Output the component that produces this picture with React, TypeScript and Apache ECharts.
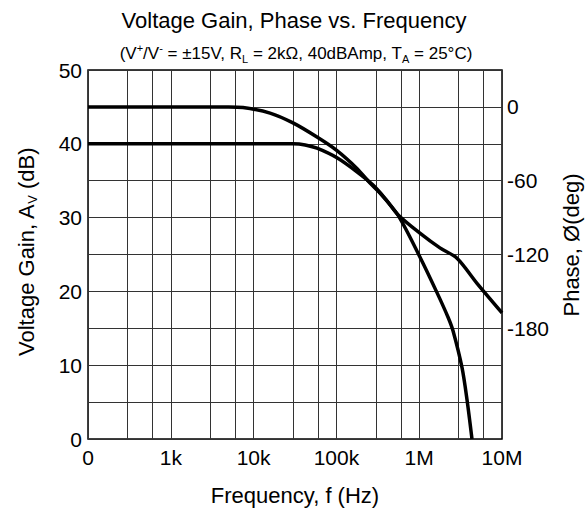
import React, { useEffect, useRef } from 'react';
import * as echarts from 'echarts';

// X axis (frequency, Hz) ticks and labels
const xTickValues = [100, 1000, 10000, 100000, 1000000, 10000000];
const xTickText = ['0', '1k', '10k', '100k', '1M', '10M'];
const minorGridFreqs = [300, 600, 3000, 6000, 30000, 60000, 300000, 600000, 3000000, 6000000];

// Right axis (phase) labels shown
const phaseTickText = [0, -60, -120, -180];

// Voltage gain curve (dB)
const gainFreq = [100, 20000, 29900, 42000, 58300, 101600, 177000, 277000, 400000, 554000, 1020000, 1780000, 2860000, 4990000, 10000000];
const gainDb = [40, 40, 40, 39.85, 39.4, 38.1, 36.2, 34.4, 32.4, 30.4, 27.9, 25.9, 24.5, 21.1, 17.1];

// Phase curve (degrees)
const phaseFreq = [100, 5000, 7450, 15800, 29900, 58300, 101600, 177000, 255000, 336000, 554000, 1020000, 1640000, 2230000, 2560000, 3290000, 3780000, 4340000];
const phaseDeg = [0, 0, -0.5, -5, -13, -24.5, -35.5, -50, -62, -70, -88, -122, -151, -171, -182, -212, -238, -270];

const FONT = '"Liberation Sans", Arial, Helvetica, sans-serif';

export default function App() {
  const ref = useRef<HTMLDivElement>(null);
  useEffect(() => {
    if (!ref.current) return;
    const chart = echarts.init(ref.current, undefined, { renderer: 'svg' });
    const gridColor = '#333';
    const option: any = {
      animation: false,
      backgroundColor: '#fff',
      textStyle: { fontFamily: FONT, color: '#000' },
      grid: { left: 88, right: 86, top: 70, bottom: 72, show: true, borderColor: '#000', borderWidth: 1.5, backgroundColor: 'transparent' },
      graphic: [
        { type: 'text', x: 294, y: 20, style: { text: 'Voltage Gain, Phase vs. Frequency', fontSize: 22, fontFamily: FONT, fill: '#000', textAlign: 'center', textVerticalAlign: 'middle' } },
        {
          type: 'text', x: 296, y: 53,
          style: {
            text: '(V{sup|+}/V{sup|-} = ±15V, R{sub|L} = 2kΩ, 40dBAmp, T{sub|A} = 25°C)',
            fontSize: 17, fontFamily: FONT, fill: '#000', textAlign: 'center', textVerticalAlign: 'middle', lineHeight: 22,
            rich: {
              sup: { fontSize: 11, fontFamily: FONT, fill: '#000', verticalAlign: 'top', lineHeight: 13 },
              sub: { fontSize: 11, fontFamily: FONT, fill: '#000', verticalAlign: 'bottom', lineHeight: 13 },
            },
          },
        },
        {
          type: 'text', x: 26, y: 252, rotation: Math.PI / 2,
          style: {
            text: 'Voltage Gain, A{sub|V} (dB)', fontSize: 22, fontFamily: FONT, fill: '#000', textAlign: 'center', textVerticalAlign: 'middle', lineHeight: 26,
            rich: { sub: { fontSize: 13, fontFamily: FONT, fill: '#000', verticalAlign: 'bottom', lineHeight: 16 } },
          },
        },
        { type: 'text', x: 571, y: 245, rotation: Math.PI / 2, style: { text: 'Phase, Ø(deg)', fontSize: 22, fontFamily: FONT, fill: '#000', textAlign: 'center', textVerticalAlign: 'middle' } },
        { type: 'text', x: 295, y: 495, style: { text: 'Frequency, f (Hz)', fontSize: 22, fontFamily: FONT, fill: '#000', textAlign: 'center', textVerticalAlign: 'middle' } },
      ],
      xAxis: {
        type: 'log', logBase: 10, min: xTickValues[0], max: xTickValues[xTickValues.length - 1],
        splitNumber: 5,
        axisLine: { show: false },
        axisTick: { show: false },
        axisLabel: {
          fontSize: 21, color: '#000', fontFamily: FONT, margin: 8,
          formatter: (v: number) => {
            const i = xTickValues.findIndex((t) => Math.abs(Math.log10(t) - Math.log10(v)) < 1e-6);
            return i >= 0 ? xTickText[i] : '';
          },
        },
        splitLine: { show: true, lineStyle: { color: gridColor, width: 1 } },
      },
      yAxis: [
        {
          type: 'value', min: 0, max: 50, interval: 10,
          axisLine: { show: false }, axisTick: { show: false },
          axisLabel: { fontSize: 21, color: '#000', fontFamily: FONT, margin: 6 },
          splitLine: { show: true, lineStyle: { color: gridColor, width: 1 } },
          minorTick: { show: false, splitNumber: 2 },
          minorSplitLine: { show: true, lineStyle: { color: gridColor, width: 1 } },
        },
        {
          type: 'value', min: -270, max: 30, interval: 30, position: 'right',
          axisLine: { show: false }, axisTick: { show: false }, splitLine: { show: false },
          axisLabel: {
            fontSize: 21, color: '#000', fontFamily: FONT, margin: 5,
            formatter: (v: number) => (phaseTickText.includes(Math.round(v)) ? String(Math.round(v)) : ''),
          },
        },
      ],
      series: [
        {
          type: 'line', name: 'gain', yAxisIndex: 0, showSymbol: false, smooth: 0.3,
          data: gainFreq.map((f, i) => [f, gainDb[i]]),
          lineStyle: { color: '#000', width: 3.5 },
          markLine: {
            silent: true, symbol: 'none', label: { show: false },
            lineStyle: { color: gridColor, width: 1, type: 'solid' },
            data: minorGridFreqs.map((f) => ({ xAxis: f })),
            z: 1,
          },
        },
        {
          type: 'line', name: 'phase', yAxisIndex: 1, showSymbol: false, smooth: 0.3,
          data: phaseFreq.map((f, i) => [f, phaseDeg[i]]),
          lineStyle: { color: '#000', width: 3.5 },
        },
      ],
    };
    chart.setOption(option);
    return () => chart.dispose();
  }, []);
  return <div ref={ref} style={{ width: 588, height: 511, position: 'absolute', left: 0, top: 0 }} />;
}
